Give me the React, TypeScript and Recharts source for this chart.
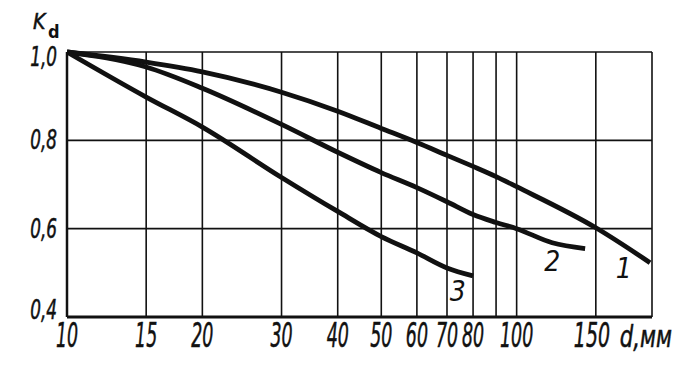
import React from 'react';
import { LineChart, Line, XAxis, YAxis, CartesianGrid, ReferenceDot } from 'recharts';

const xTicks = [10, 15, 20, 30, 40, 50, 60, 70, 80, 90, 100, 150, 200];
const yTicks = [0.4, 0.6, 0.8, 1.0];

const d1 = [10, 15, 20, 30, 40, 50, 60, 70, 80, 90, 100, 150, 198];
const k1 = [1.0, 0.977, 0.955, 0.909, 0.866, 0.827, 0.795, 0.766, 0.741, 0.718, 0.695, 0.602, 0.523];

const d2 = [10, 15, 20, 30, 40, 50, 60, 70, 80, 90, 100, 120, 142];
const k2 = [1.0, 0.966, 0.918, 0.836, 0.773, 0.727, 0.693, 0.661, 0.632, 0.614, 0.6, 0.568, 0.555];

const d3 = [10, 15, 20, 30, 40, 50, 60, 70, 80];
const k3 = [1.0, 0.898, 0.83, 0.716, 0.639, 0.582, 0.545, 0.511, 0.493];

// curve numbers, placed next to the ends of the curves
const curveLabels = [
  { d: 173, k: 0.51, text: '1' },
  { d: 120, k: 0.527, text: '2' },
  { d: 74, k: 0.459, text: '3' },
];

const toRows = (d: number[], k: number[]) => d.map((x, i) => ({ d: x, k: k[i] }));

const FONT = "'DejaVu Sans Condensed', 'Liberation Sans Narrow', sans-serif";

// narrow, tall italic lettering like the drawing
const Narrow = ({ x, y, size, sx, anchor, weight, children }: any) => (
  <text
    transform={`translate(${x},${y}) scale(${sx},1)`}
    textAnchor={anchor}
    fontFamily={FONT}
    fontStyle="italic"
    fontWeight={weight || 'normal'}
    fontSize={size}
    fill="#111"
    stroke="#111"
    strokeWidth={0.5}
  >
    {children}
  </text>
);

const XTick = (props: any) => {
  const { x, y, payload } = props;
  const v = payload.value;
  if (v === 90 || v === 200) return <g />;
  if (v === 150) {
    return (
      <g>
        <Narrow x={x - 22} y={y + 22} size={34} sx={0.62} anchor="start">150</Narrow>
        <Narrow x={x + 24} y={y + 22} size={31} sx={0.76} anchor="start">d,мм</Narrow>
      </g>
    );
  }
  return (
    <Narrow x={x} y={y + 22} size={34} sx={0.57} anchor="middle">
      {v}
    </Narrow>
  );
};

// the hand lettering sits a little off the grid lines
const yShift = (v: number) => (v === 1 ? 14 : v === 0.4 ? 2 : 9);

const YTick = (props: any) => {
  const { x, y, payload } = props;
  const v = payload.value;
  return (
    <Narrow x={x - 2} y={y + yShift(v)} size={26} sx={0.72} anchor="end">
      {v.toFixed(1).replace('.', ',')}
    </Narrow>
  );
};

const KdLabel = (p: any) => {
  const { x, y } = p.viewBox;
  return (
    <g>
      <Narrow x={x + 6} y={y - 23} size={21} sx={1} anchor="start">K</Narrow>
      <text x={x + 21} y={y - 14} fontFamily={FONT} fontWeight="bold" fontSize={18} fill="#111">d</text>
    </g>
  );
};

const App: React.FC = () => {
  return (
    <div style={{ position: 'absolute', left: 0, top: 0, background: '#fff' }}>
      <LineChart width={692} height={376} margin={{ top: 52, right: 40, left: 27, bottom: 19 }}>
        <CartesianGrid stroke="#111" strokeWidth={1.6} />
        <XAxis
          type="number"
          dataKey="d"
          scale="log"
          domain={[10, 200]}
          ticks={xTicks}
          allowDataOverflow
          height={40}
          axisLine={{ stroke: '#111', strokeWidth: 3 }}
          tickLine={false}
          tick={XTick}
          interval={0}
        />
        <YAxis
          type="number"
          dataKey="k"
          domain={[0.4, 1.0]}
          ticks={yTicks}
          width={40}
          axisLine={{ stroke: '#111', strokeWidth: 2.5 }}
          tickLine={false}
          tick={YTick}
          interval={0}
          label={{ position: 'insideTopLeft', content: KdLabel }}
        />
        <Line data={toRows(d1, k1)} dataKey="k" type="monotone" stroke="#111" strokeWidth={4.8} dot={false} isAnimationActive={false} />
        <Line data={toRows(d2, k2)} dataKey="k" type="monotone" stroke="#111" strokeWidth={4.8} dot={false} isAnimationActive={false} />
        <Line data={toRows(d3, k3)} dataKey="k" type="monotone" stroke="#111" strokeWidth={4.8} dot={false} isAnimationActive={false} />
        {curveLabels.map((c) => (
          <ReferenceDot
            key={c.text}
            x={c.d}
            y={c.k}
            r={0}
            stroke="none"
            fill="none"
            label={{ value: c.text, position: 'center', fontSize: 28, fontStyle: 'italic', fontFamily: FONT, fill: '#111' }}
          />
        ))}
      </LineChart>
    </div>
  );
};

export default App;
